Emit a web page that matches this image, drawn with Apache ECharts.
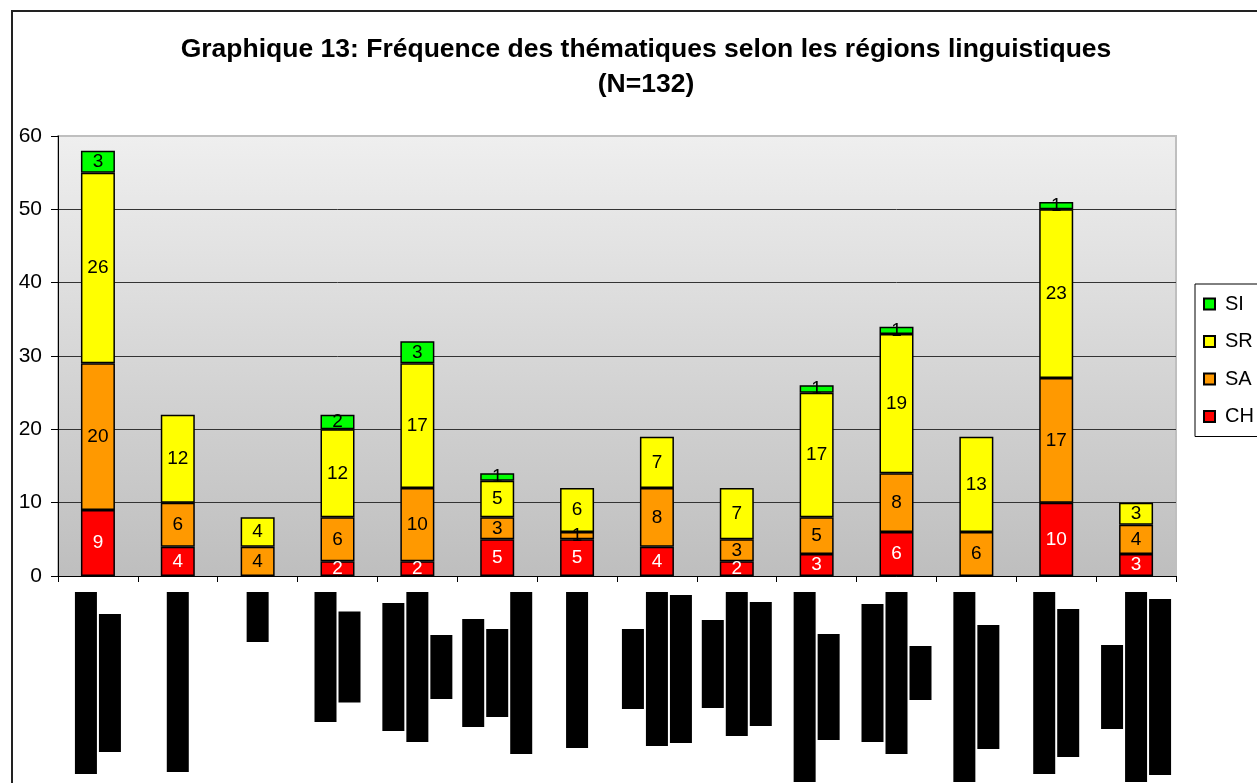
<!DOCTYPE html>
<html>
<head>
<meta charset="utf-8">
<title>Graphique 13</title>
<script src="https://cdn.jsdelivr.net/npm/echarts@6/dist/echarts.min.js"></script>
<style>
html, body { margin: 0; padding: 0; background: #fff; overflow: hidden; }
#frame { position: absolute; left: 11px; top: 10px; width: 1300px; height: 800px;
         border-left: 2px solid #222; border-top: 2px solid #222; }
#chart { position: absolute; left: 0; top: 0; width: 1257px; height: 783px; }
</style>
</head>
<body>
<div id="frame"></div>
<div id="chart"></div>
<script>
// régions (noms caviardés dans l'original)
const categories = ['R1', 'R2', 'R3', 'R4', 'R5', 'R6', 'R7', 'R8', 'R9', 'R10', 'R11', 'R12', 'R13', 'R14'];
const seriesNames = ['CH', 'SA', 'SR', 'SI'];
const CH = [9, 4, 0, 2, 2, 5, 5, 4, 2, 3, 6, 0, 10, 3];
const SA = [20, 6, 4, 6, 10, 3, 1, 8, 3, 5, 8, 6, 17, 4];
const SR = [26, 12, 4, 12, 17, 5, 6, 7, 7, 17, 19, 13, 23, 3];
const SI = [3, 0, 0, 2, 3, 1, 0, 0, 0, 1, 1, 0, 1, 0];
const yTicks = [0, 10, 20, 30, 40, 50, 60];

// longueur (px) des bandes noires qui masquent les libellés, ligne par ligne
const redactLen = [
  [182, 138], [180], [50], [130, 91], [128, 150, 64], [108, 88, 162], [156],
  [80, 154, 148], [88, 144, 124], [190, 106], [138, 162, 54], [190, 124],
  [182, 148], [84, 190, 176]
];

const colors = { CH: '#ff0000', SA: '#ff9900', SR: '#ffff00', SI: '#00ff00' };
const values = { CH: CH, SA: SA, SR: SR, SI: SI };
const FONT = 'Liberation Sans, Arial, sans-serif';

// styles rich pour les bandes noires
const rich = {};
redactLen.forEach((lines, i) => {
  lines.forEach((w, j) => {
    rich['b' + i + '_' + j] = { width: w, height: 22, lineHeight: 24, backgroundColor: '#000', align: 'center' };
  });
});

const chart = echarts.init(document.getElementById('chart'));

const series = seriesNames.map(name => ({
  name: name,
  type: 'bar',
  stack: 'total',
  barWidth: 34,
  data: values[name].map(v => v === 0 ? '-' : v),
  itemStyle: { color: colors[name], borderColor: '#000', borderWidth: 1.5 },
  label: {
    show: true,
    position: 'inside',
    fontFamily: FONT,
    fontSize: 19,
    color: name === 'CH' ? '#fff' : '#000',
    formatter: p => p.value ? String(p.value) : ''
  }
}));

const option = {
  animation: false,
  backgroundColor: 'transparent',
  title: {
    text: 'Graphique 13: Fréquence des thématiques selon les régions linguistiques\n(N=132)',
    left: 641,
    textAlign: 'center',
    top: 27,
    textStyle: { fontFamily: FONT, fontSize: 26.5, fontWeight: 'bold', color: '#000', lineHeight: 35 }
  },
  legend: {
    data: ['SI', 'SR', 'SA', 'CH'],
    orient: 'vertical',
    left: 1195,
    top: 284,
    padding: [10, 60, 10, 8],
    itemGap: 17.5,
    itemWidth: 11,
    itemHeight: 11,
    icon: 'rect',
    backgroundColor: '#fff',
    borderColor: '#000',
    borderWidth: 1,
    textStyle: { fontFamily: FONT, fontSize: 20, color: '#000', padding: [0, 0, 0, 5] }
  },
  grid: {
    left: 58, right: 81, top: 136, bottom: 207,
    outerBoundsMode: 'none',
    show: true,
    borderColor: '#bfbfbf',
    borderWidth: 2,
    backgroundColor: {
      type: 'linear', x: 0, y: 0, x2: 0, y2: 1,
      colorStops: [{ offset: 0, color: '#efefef' }, { offset: 1, color: '#bebebe' }]
    }
  },
  xAxis: {
    type: 'category',
    data: categories,
    boundaryGap: true,
    axisLine: { lineStyle: { color: '#000', width: 1 } },
    axisTick: { show: true, length: 6, lineStyle: { color: '#000' } },
    axisLabel: {
      interval: 0,
      rotate: 90,
      margin: 16,
      rich: rich,
      formatter: (value, index) => redactLen[index].map((w, j) => '{b' + index + '_' + j + '|}').join('\n')
    }
  },
  yAxis: {
    type: 'value',
    min: yTicks[0],
    max: yTicks[yTicks.length - 1],
    interval: 10,
    axisLine: { show: true, lineStyle: { color: '#000', width: 1 } },
    axisTick: { show: true, length: 7, lineStyle: { color: '#000' } },
    axisLabel: { fontFamily: FONT, fontSize: 21, color: '#000', margin: 16 },
    splitLine: { show: true, showMaxLine: false, lineStyle: { color: '#333', width: 1 } }
  },
  series: series
};

chart.setOption(option);
</script>
</body>
</html>
